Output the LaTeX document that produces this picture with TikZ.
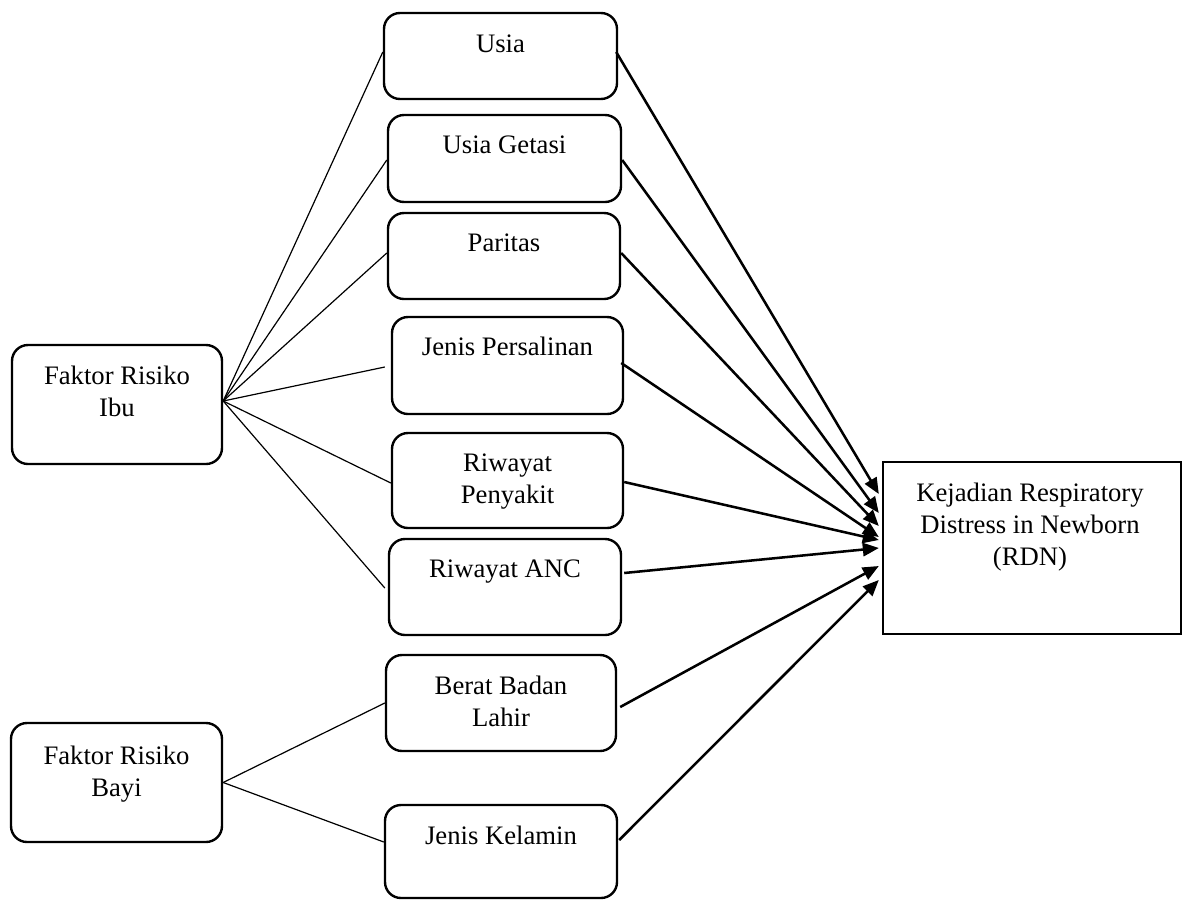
\documentclass[tikz,border=0pt]{standalone}
\usepackage{fontspec}
\setmainfont{Liberation Serif}
\usetikzlibrary{arrows.meta,calc}
\tikzset{
  rbox/.style={draw, line width=1.8pt, rounded corners=12pt, inner sep=0pt},
  sbox/.style={draw, line width=1.8pt, inner sep=0pt},
  lbl/.style={anchor=north, inner sep=0pt, align=center, font=\fontsize{20}{24}\selectfont},
  thin line/.style={line width=0.9pt},
  arr/.style={line width=1.9pt, -{Triangle[length=12pt,width=10pt]}}
}
\begin{document}
\begin{tikzpicture}[x=0.75pt,y=-0.75pt]
\useasboundingbox (0,0) rectangle (1187,900);
% boxes
\node[rbox, minimum width=210*0.75pt, minimum height=119*0.75pt] (ibu) at (117,404.5) {};
\node[rbox, minimum width=211*0.75pt, minimum height=119*0.75pt] (bayi) at (116.5,782.5) {};
\node[rbox, minimum width=233*0.75pt, minimum height=86*0.75pt] (usia) at (500.5,56) {};
\node[rbox, minimum width=233*0.75pt, minimum height=87*0.75pt] (getasi) at (504.5,158.5) {};
\node[rbox, minimum width=232*0.75pt, minimum height=86*0.75pt] (paritas) at (504,256) {};
\node[rbox, minimum width=231*0.75pt, minimum height=97*0.75pt] (persalinan) at (507.5,365.5) {};
\node[rbox, minimum width=231*0.75pt, minimum height=95*0.75pt] (penyakit) at (507.5,480.5) {};
\node[rbox, minimum width=232*0.75pt, minimum height=96*0.75pt] (anc) at (505,587) {};
\node[rbox, minimum width=230*0.75pt, minimum height=96*0.75pt] (berat) at (501,703) {};
\node[rbox, minimum width=232*0.75pt, minimum height=93*0.75pt] (kelamin) at (501,851.5) {};
\node[sbox, minimum width=298*0.75pt, minimum height=172*0.75pt] (rdn) at (1032,548) {};
% labels
\node[lbl] (tibu) at ($(ibu.north)+(0,22)$) {Faktor Risiko\\Ibu};
\node[lbl] (tbayi) at ($(bayi.north)+(0,24)$) {Faktor Risiko\\Bayi};
\node[lbl] (tusia) at ($(usia.north)+(0,23)$) {Usia};
\node[lbl] (tgetasi) at ($(getasi.north)+(0,22)$) {Usia Getasi};
\node[lbl] (tparitas) at ($(paritas.north)+(0,22)$) {Paritas};
\node[lbl] (tpersalinan) at ($(persalinan.north)+(0,21)$) {Jenis Persalinan};
\node[lbl] (tpenyakit) at ($(penyakit.north)+(0,22)$) {Riwayat\\Penyakit};
\node[lbl] (tanc) at ($(anc.north)+(0,22)$) {Riwayat ANC};
\node[lbl] (tberat) at ($(berat.north)+(0,22)$) {Berat Badan\\Lahir};
\node[lbl] (tkelamin) at ($(kelamin.north)+(0,22)$) {Jenis Kelamin};
\node[lbl] (trdn) at ($(rdn.north)+(-2,22)$) {Kejadian Respiratory\\Distress in Newborn\\(RDN)};
% hubs
\coordinate (hibu) at ($(ibu.east)+(0,-3.5)$);
\coordinate (hbayi) at (bayi.east);
% thin lines
\draw[thin line] (hibu) -- ($(usia.west)+(0,-4)$);
\draw[thin line] (hibu) -- ($(getasi.west)+(0,1.5)$);
\draw[thin line] (hibu) -- ($(paritas.west)+(0,-3)$);
\draw[thin line] (hibu) -- ($(persalinan.west)+(-6,1.5)$);
\draw[thin line] (hibu) -- ($(penyakit.west)+(0,2.5)$);
\draw[thin line] (hibu) -- ($(anc.west)+(-3,1)$);
\draw[thin line] (hbayi) -- (berat.west);
\draw[thin line] (hbayi) -- ($(kelamin.west)+(0,-9.5)$);
% arrows
\draw[arr] ($(usia.east)+(-2,-4)$) -- ($(rdn.west)+(-3,-54)$);
\draw[arr] ($(getasi.east)+(0,1.5)$) -- ($(rdn.west)+(-3,-35)$);
\draw[arr] ($(paritas.east)+(0,-3)$) -- ($(rdn.west)+(-3,-22)$);
\draw[arr] ($(persalinan.east)+(-3,-2.5)$) -- ($(rdn.west)+(-3,-11)$);
\draw[arr] ($(penyakit.east)+(0,1.5)$) -- ($(rdn.west)+(-3,-8)$);
\draw[arr] ($(anc.east)+(2,-14)$) -- ($(rdn.west)+(-3,0)$);
\draw[arr] ($(berat.east)+(3,4)$) -- ($(rdn.west)+(-3,18)$);
\draw[arr] ($(kelamin.east)+(1,-11.5)$) -- ($(rdn.west)+(-3,32)$);
\end{tikzpicture}
\end{document}
